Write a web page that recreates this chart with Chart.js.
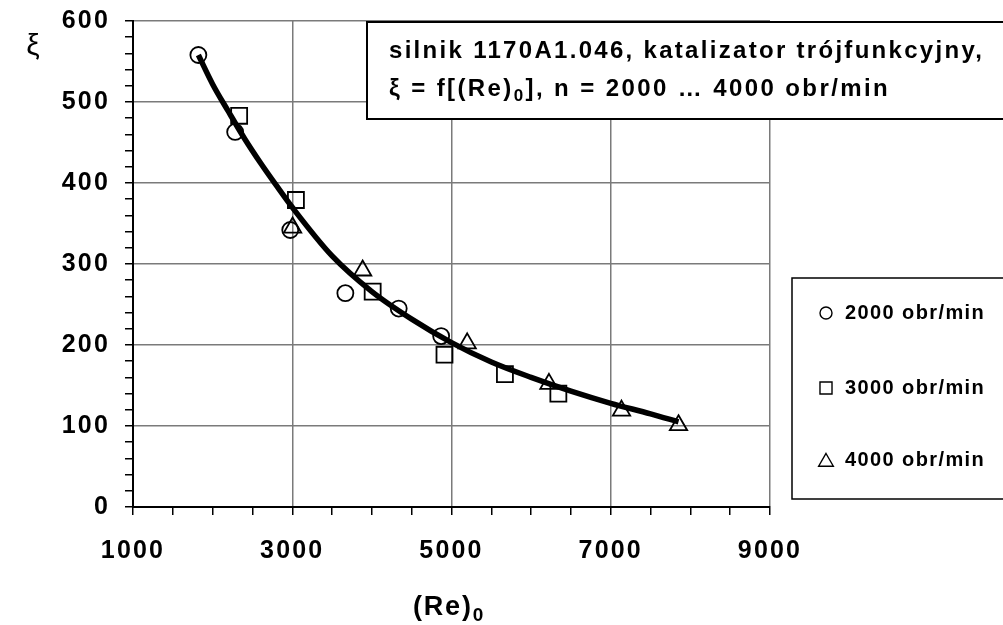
<!DOCTYPE html>
<html>
<head>
<meta charset="utf-8">
<script src="https://cdn.jsdelivr.net/npm/chart.js@4.4.0/dist/chart.umd.min.js"></script>
<style>
  html, body { margin: 0; padding: 0; background: #fff; }
  #wrap { width: 1003px; height: 625px; }
</style>
</head>
<body>
<div id="wrap"><canvas id="xiChart" width="1003" height="625"></canvas></div>
<script>
// trend line
const curveRe = [1821, 2000, 2200, 2400, 2600, 2800, 3000, 3500, 4000, 4500, 5000, 5500, 6000, 6500, 7000, 7500, 7851];
const curveXi = [558, 522, 488, 455, 425, 397, 370, 310, 266, 232, 203, 179, 160, 143, 128, 115, 105];

// measured points
const re2000 = [1821, 2283, 2975, 3667, 4337, 4870];
const xi2000 = [558, 463, 342, 264, 245, 211];
const re3000 = [2333, 3046, 4010, 4912, 5671, 6342];
const xi3000 = [483, 379, 266, 188, 164, 140];
const re4000 = [3004, 3884, 5197, 6224, 7135, 7851];
const xi4000 = [345, 292, 202, 152, 119, 101];

const seriesLabels = ['2000 obr/min', '3000 obr/min', '4000 obr/min'];
const xTickLabels = [1000, 3000, 5000, 7000, 9000];
const yTickLabels = [0, 100, 200, 300, 400, 500, 600];

const FONT = "'Liberation Sans', Arial, sans-serif";
const GRID = '#7a7a7a';

const pts = (xs, ys) => xs.map((x, i) => ({ x: x, y: ys[i] }));

function markerSet(label, xs, ys, style, radius) {
  return {
    label: label,
    data: pts(xs, ys),
    showLine: false,
    pointStyle: style,
    pointRadius: radius,
    pointHoverRadius: radius,
    pointBorderColor: '#000',
    pointBackgroundColor: 'rgba(0,0,0,0)',
    pointBorderWidth: 1.8,
    order: 1
  };
}

function drawMarker(ctx, style, x, y, r) {
  ctx.beginPath();
  if (style === 'circle') {
    ctx.arc(x, y, r, 0, Math.PI * 2);
  } else if (style === 'rect') {
    const s = r * Math.SQRT1_2;
    ctx.rect(x - s, y - s, 2 * s, 2 * s);
  } else {
    ctx.moveTo(x, y - r);
    ctx.lineTo(x + Math.sin(2 * Math.PI / 3) * r, y + r / 2);
    ctx.lineTo(x - Math.sin(2 * Math.PI / 3) * r, y + r / 2);
    ctx.closePath();
  }
  ctx.stroke();
}

// draws text runs, run.sub = subscript
function drawRuns(ctx, runs, x, y, size, spacing) {
  ctx.letterSpacing = spacing + 'px';
  ctx.textBaseline = 'alphabetic';
  ctx.textAlign = 'left';
  runs.forEach(r => {
    const sz = r.sub ? Math.round(size * 0.7) : size;
    ctx.font = 'bold ' + sz + 'px ' + FONT;
    ctx.fillText(r.t, x, r.sub ? y + size * 0.22 : y);
    x += ctx.measureText(r.t).width;
  });
}

const decorPlugin = {
  id: 'decor',
  beforeDraw(chart) {
    chart.ctx.letterSpacing = '2.2px';
  },
  afterDraw(chart) {
    const ctx = chart.ctx;
    ctx.save();
    ctx.fillStyle = '#000';
    ctx.strokeStyle = '#000';

    // title box
    ctx.fillStyle = '#fff';
    ctx.fillRect(367, 22, 640, 97);
    ctx.lineWidth = 2;
    ctx.strokeRect(367, 22, 640, 97);
    ctx.fillStyle = '#000';
    drawRuns(ctx, [{ t: 'silnik 1170A1.046, katalizator trójfunkcyjny,' }], 389, 58, 24, 2.3);
    drawRuns(ctx, [{ t: 'ξ = f[(Re)' }, { t: '0', sub: true }, { t: '], n = 2000 … 4000 obr/min' }], 389, 96, 24, 2.4);

    // legend box
    ctx.fillStyle = '#fff';
    ctx.fillRect(792, 278, 220, 221);
    ctx.lineWidth = 1.5;
    ctx.strokeRect(792, 278, 220, 221);
    ctx.fillStyle = '#000';
    const rows = [313, 388, 460];
    const sizes = { circle: 6, rect: 8.5, triangle: 8.5 };
    chart.data.datasets.filter(d => seriesLabels.includes(d.label)).forEach((d, i) => {
      ctx.lineWidth = 1.4;
      const my = d.pointStyle === 'triangle' ? rows[i] + 2 : rows[i];
      drawMarker(ctx, d.pointStyle, 826, my, sizes[d.pointStyle]);
      ctx.letterSpacing = '1.4px';
      ctx.font = 'bold 20px ' + FONT;
      ctx.textBaseline = 'middle';
      ctx.textAlign = 'left';
      ctx.fillText(d.label, 845, rows[i]);
    });

    // axis titles
    drawRuns(ctx, [{ t: '(Re)' }, { t: '0', sub: true }], 413, 615, 27, 1.8);
    ctx.letterSpacing = '0px';
    ctx.font = '30px ' + FONT;
    ctx.textAlign = 'center';
    ctx.textBaseline = 'middle';
    ctx.fillText('ξ', 33, 47);
    ctx.restore();
  }
};

const ctx = document.getElementById('xiChart').getContext('2d');
const xiChart = new Chart(ctx, {
  type: 'scatter',
  data: {
    datasets: [
      {
        label: 'trend',
        data: pts(curveRe, curveXi),
        showLine: true,
        borderColor: '#000',
        borderWidth: 5.5,
        pointRadius: 0,
        tension: 0.4,
        cubicInterpolationMode: 'monotone',
        order: 0
      },
      markerSet(seriesLabels[0], re2000, xi2000, 'circle', 8),
      markerSet(seriesLabels[1], re3000, xi3000, 'rect', 11.3),
      markerSet(seriesLabels[2], re4000, xi4000, 'triangle', 10)
    ]
  },
  options: {
    responsive: false,
    animation: false,
    devicePixelRatio: 1,
    layout: { padding: { left: 0, top: 21, right: 233, bottom: 0 } },
    plugins: { legend: { display: false }, tooltip: { enabled: false } },
    scales: {
      x: {
        type: 'linear',
        min: 1000,
        max: 9000,
        afterFit: s => { s.height = 118; s.paddingLeft = 0; s.paddingRight = 0; },
        border: { color: '#000', width: 2 },
        grid: {
          color: c => (c.tick && c.tick.value > 1000 && (c.tick.value - 1000) % 2000 === 0) ? GRID : 'rgba(0,0,0,0)',
          lineWidth: 1.5,
          tickColor: '#000',
          tickWidth: 1.5,
          tickLength: 8
        },
        ticks: {
          stepSize: 500,
          autoSkip: false,
          maxRotation: 0,
          padding: 21,
          color: '#000',
          font: { family: FONT, size: 25, weight: 'bold' },
          callback: v => xTickLabels.includes(v) ? String(v) : ''
        }
      },
      y: {
        type: 'linear',
        min: 0,
        max: 600,
        afterFit: s => { s.width = 133; s.paddingTop = 0; s.paddingBottom = 0; },
        border: { color: '#000', width: 2 },
        grid: {
          color: c => (c.tick && c.tick.value > 0 && c.tick.value % 100 === 0) ? GRID : 'rgba(0,0,0,0)',
          lineWidth: 1.5,
          tickColor: '#000',
          tickWidth: 1.5,
          tickLength: 8
        },
        ticks: {
          stepSize: 20,
          autoSkip: false,
          padding: 15,
          color: '#000',
          font: { family: FONT, size: 25, weight: 'bold' },
          callback: v => yTickLabels.includes(v) ? String(v) : ''
        }
      }
    }
  },
  plugins: [decorPlugin]
});
</script>
</body>
</html>
